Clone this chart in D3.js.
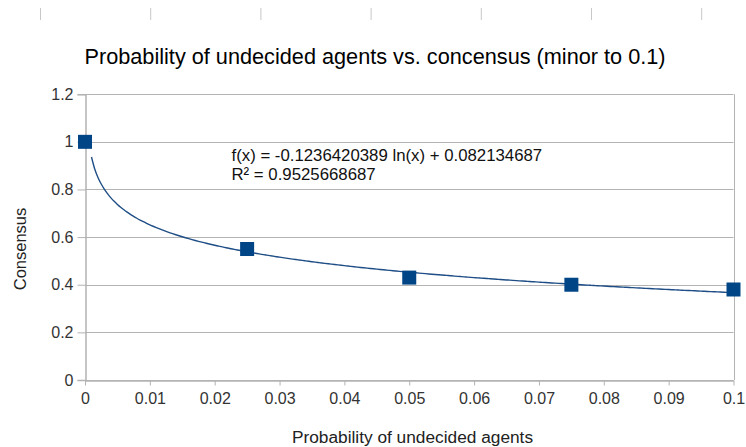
<!DOCTYPE html>
<html><head><meta charset="utf-8">
<script src="https://cdn.jsdelivr.net/npm/d3@7"></script>
<style>body{margin:0;background:#fff;} text{font-family:"Liberation Sans",Arial,sans-serif;}</style>
</head><body>
<svg id="c" width="746" height="447"></svg>
<script>
const xValues = [0, 0.025, 0.05, 0.075, 0.1];
const yValues = [1, 0.55, 0.43, 0.40, 0.38];
const xTicks = [0,0.01,0.02,0.03,0.04,0.05,0.06,0.07,0.08,0.09,0.1];
const yTicks = [0,0.2,0.4,0.6,0.8,1,1.2];
const trendA = -0.1236420389, trendB = 0.082134687;
const title = "Probability of undecided agents vs. concensus (minor to 0.1)";
const xTitle = "Probability of undecided agents";
const yTitle = "Consensus";
const eqLines = ["f(x) = -0.1236420389 ln(x) + 0.082134687", "R² = 0.9525668687"];
const topMarks = [0,1,2,3,4,5,6];

const svg = d3.select("#c");
const x = d3.scaleLinear().domain([0,0.1]).range([85,733.5]);
const y = d3.scaleLinear().domain([0,1.2]).range([380,94.2]);
const grid = "#b3b3b3";

svg.selectAll("line.top").data(topMarks).enter().append("line")
  .attr("x1",d=>40.5+d*110.2).attr("x2",d=>40.5+d*110.2).attr("y1",8).attr("y2",20)
  .attr("stroke","#c8c8c8").attr("stroke-width",1);

svg.append("text").attr("x",375).attr("y",64).attr("text-anchor","middle")
  .attr("font-size",21.7).attr("fill","#000").text(title);

svg.selectAll("line.gy").data(yTicks).enter().append("line")
  .attr("x1",x(0)).attr("x2",x(0.1)).attr("y1",d=>Math.round(y(d))+0.5).attr("y2",d=>Math.round(y(d))+0.5)
  .attr("stroke",grid).attr("stroke-width",1);
svg.append("line").attr("x1",Math.round(x(0.1))+0.5).attr("x2",Math.round(x(0.1))+0.5)
  .attr("y1",y(1.2)).attr("y2",y(0)).attr("stroke",grid);

const ya = svg.append("g").attr("transform",`translate(${Math.round(x(0))+0.5},0)`)
  .call(d3.axisLeft(y).tickValues(yTicks).tickSize(8).tickPadding(4).tickFormat(d=>String(+d.toFixed(2))));
ya.select(".domain").attr("stroke",grid).attr("stroke-width",1.5);
ya.selectAll(".tick line").attr("stroke",grid);
ya.selectAll(".tick text").attr("font-size",16).attr("fill","#333").attr("font-family","Liberation Sans, Arial, sans-serif");

const xa = svg.append("g").attr("transform",`translate(0,${Math.round(y(0))+0.5})`)
  .call(d3.axisBottom(x).tickValues(xTicks).tickSize(5).tickPadding(7).tickSizeOuter(0).tickFormat(d=>String(+d.toFixed(3))));
xa.select(".domain").attr("stroke",grid).attr("stroke-width",1.5);
xa.selectAll(".tick line").attr("stroke",grid);
xa.selectAll(".tick text").attr("font-size",16).attr("fill","#333").attr("font-family","Liberation Sans, Arial, sans-serif");

svg.append("text").attr("x",20).attr("y",y(0.55)).attr("text-anchor","middle")
  .attr("transform",`rotate(-90,20,${y(0.55)})`).attr("dy","0.35em")
  .attr("font-size",16.5).attr("fill","#222").text(yTitle);
svg.append("text").attr("x",412.5).attr("y",443).attr("text-anchor","middle")
  .attr("font-size",17.3).attr("fill","#222").text(xTitle);

const tx = d3.range(0.001, 0.1+1e-9, 0.0005);
const line = d3.line().x(d=>x(d)).y(d=>y(trendA*Math.log(d)+trendB)).curve(d3.curveMonotoneX);
svg.append("path").attr("d",line(tx)).attr("fill","none").attr("stroke","#1f4e86").attr("stroke-width",1.4);

svg.selectAll("rect.pt").data(xValues.map((v,i)=>[v,yValues[i]])).enter().append("rect")
  .attr("x",d=>x(d[0])-7).attr("y",d=>y(d[1])-7).attr("width",14).attr("height",14)
  .attr("fill","#004586");

svg.selectAll("text.eq").data(eqLines).enter().append("text")
  .attr("x",231.5).attr("y",(d,i)=>161+i*18.5).attr("font-size",16.8).attr("fill","#111").text(d=>d);
</script>
</body></html>
